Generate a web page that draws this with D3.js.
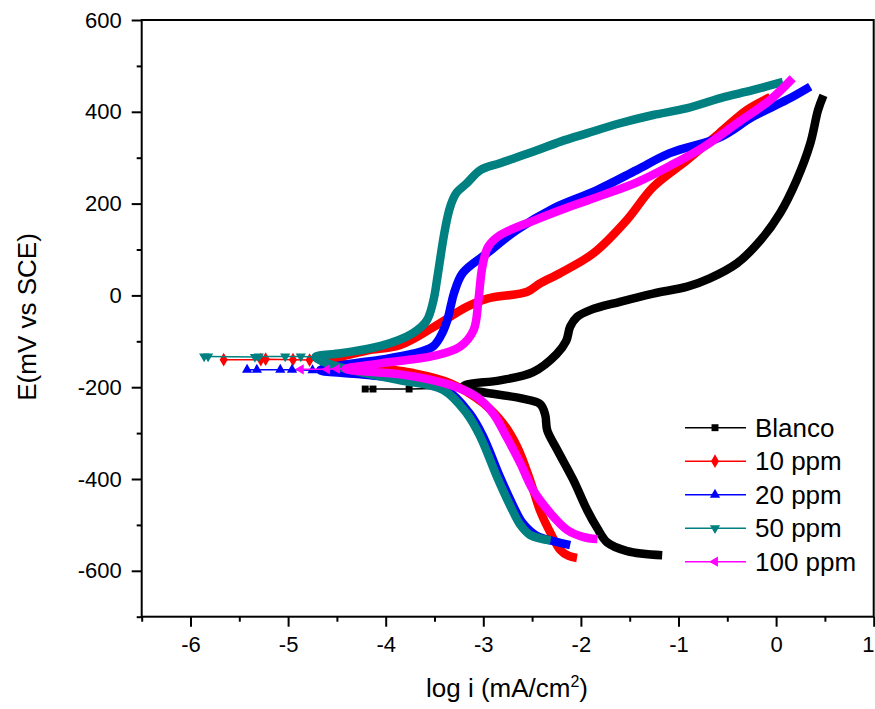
<!DOCTYPE html>
<html><head><meta charset="utf-8">
<script src="https://cdn.jsdelivr.net/npm/d3@7"></script>
<style>body{margin:0;background:#fff}svg{display:block;font-family:"Liberation Sans",Arial,sans-serif}</style>
</head><body><svg id="chart" width="875" height="709"></svg>
<script>
// ---- axis ticks ----
const xTicks = [-6, -5, -4, -3, -2, -1, 0, 1];
const xMinorTicks = [-6.5, -5.5, -4.5, -3.5, -2.5, -1.5, -0.5, 0.5];
const yTicks = [-600, -400, -200, 0, 200, 400, 600];
const yMinorTicks = [-700, -500, -300, -100, 100, 300, 500];
const seriesNames = ["Blanco", "10 ppm", "20 ppm", "50 ppm", "100 ppm"];
const seriesColors = ["#000000", "#FF0000", "#0000FF", "#008080", "#FF00FF"];

// ---- data: [log i, E] ----
// Blanco
const blancoCath = [[-1.167,-566],[-1.526,-557],[-1.731,-538],[-1.833,-507],[-1.935,-468],[-2.078,-402],[-2.242,-337],[-2.345,-294],[-2.365,-261],[-2.416,-237],[-2.621,-224],[-3.0,-211],[-3.215,-202]];
const blancoAnod = [[-3.215,-202],[-3.18,-195],[-2.83,-185],[-2.49,-167],[-2.25,-128],[-2.15,-99],[-2.11,-68],[-2.04,-47],[-1.905,-32],[-1.60,-14],[-1.26,4],[-0.91,19],[-0.68,37],[-0.40,70],[-0.16,120],[0.04,179],[0.21,251],[0.35,331],[0.43,404],[0.485,436]];
const blancoEcorr = [[-3.76,-204],[-4.13,-204],[-4.21,-204]];
// 10 ppm
const ppm10Cath = [[-2.04,-572],[-2.13,-567],[-2.21,-555],[-2.31,-518],[-2.42,-468],[-2.52,-403],[-2.65,-331],[-2.80,-278],[-3.0,-235],[-3.34,-191],[-3.72,-169],[-4.33,-152],[-4.62,-141]];
const ppm10Anod = [[-4.62,-141],[-4.45,-133],[-4.19,-120],[-3.85,-108],[-3.51,-69],[-3.17,-25],[-2.96,-7],[-2.55,8],[-2.42,26],[-2.21,49],[-1.87,92],[-1.53,164],[-1.26,236],[-0.91,295],[-0.58,354],[-0.30,404],[-0.06,432]];
const ppm10Ecorr = [[-4.78,-141],[-4.95,-140],[-5.23,-139],[-5.28,-140],[-5.66,-140]];
// 20 ppm
const ppm20Cath = [[-2.11,-544],[-2.25,-537],[-2.45,-524],[-2.60,-495],[-2.69,-460],[-2.83,-395],[-3.0,-308],[-3.14,-257],[-3.38,-206],[-3.85,-182],[-4.26,-172],[-4.67,-163]];
const ppm20Anod = [[-4.67,-163],[-4.39,-150],[-4.05,-140],[-3.72,-127],[-3.52,-112],[-3.44,-90],[-3.37,-55],[-3.33,-20],[-3.30,5],[-3.21,49],[-2.96,92],[-2.66,142],[-2.28,190],[-1.84,229],[-1.43,273],[-1.09,310],[-0.57,345],[-0.24,389],[0.11,426],[0.35,455]];
const ppm20Ecorr = [[-4.75,-163],[-4.96,-162],[-5.08,-162],[-5.32,-162],[-5.42,-162]];
// 50 ppm
const ppm50Cath = [[-2.31,-534],[-2.52,-522],[-2.62,-500],[-2.72,-460],[-2.86,-395],[-3.03,-308],[-3.17,-257],[-3.41,-206],[-3.85,-185],[-4.26,-167],[-4.57,-150],[-4.72,-134]];
const ppm50Anod = [[-4.72,-134],[-4.46,-126],[-4.05,-110],[-3.72,-82],[-3.58,-55],[-3.51,-10],[-3.47,40],[-3.40,135],[-3.35,185],[-3.31,210],[-3.27,225],[-3.17,244],[-3.03,273],[-2.83,288],[-2.45,316],[-2.21,335],[-1.94,353],[-1.60,375],[-1.26,393],[-0.91,408],[-0.57,430],[-0.24,447],[0.07,465]];
const ppm50Ecorr = [[-4.87,-133],[-5.03,-133],[-5.30,-133],[-5.34,-134],[-5.82,-133],[-5.86,-133]];
// 100 ppm
const ppm100Cath = [[-1.83,-531],[-1.98,-526],[-2.14,-511],[-2.31,-475],[-2.49,-424],[-2.62,-366],[-2.76,-309],[-2.90,-257],[-3.07,-221],[-3.34,-195],[-3.85,-172],[-4.26,-165],[-4.41,-160]];
const ppm100Anod = [[-4.41,-160],[-4.05,-148],[-3.51,-132],[-3.24,-112],[-3.10,-76],[-3.05,-10],[-3.01,62],[-2.95,106],[-2.83,131],[-2.47,164],[-2.13,192],[-1.77,219],[-1.42,247],[-1.09,282],[-0.73,325],[-0.40,375],[-0.06,426],[0.17,473]];
const ppm100Ecorr = [[-4.50,-160],[-4.60,-161],[-4.87,-161]];

const series = [
  {cath: blancoCath, anod: blancoAnod, ecorr: blancoEcorr, sym: d3.symbolSquare, rot: 0, size: 48},
  {cath: ppm10Cath, anod: ppm10Anod, ecorr: ppm10Ecorr, sym: d3.symbolDiamond, rot: 0, size: 55},
  {cath: ppm20Cath, anod: ppm20Anod, ecorr: ppm20Ecorr, sym: d3.symbolTriangle, rot: 0, size: 45},
  {cath: ppm50Cath, anod: ppm50Anod, ecorr: ppm50Ecorr, sym: d3.symbolTriangle, rot: 180, size: 45},
  {cath: ppm100Cath, anod: ppm100Anod, ecorr: ppm100Ecorr, sym: d3.symbolTriangle, rot: -90, size: 45}
].map((s, i) => Object.assign(s, {name: seriesNames[i], color: seriesColors[i]}));

const svg = d3.select("#chart");
const L = 141.7, R = 873.7, T = 20, B = 616.7;
const x = d3.scaleLinear().domain([-6.5, 1]).range([L, R]);
const y = d3.scaleLinear().domain([-700, 600]).range([B, T]);

// axes
const fmt = d => String(d);
const gx = svg.append("g").attr("transform", `translate(0,${B})`)
  .call(d3.axisBottom(x).tickValues(xTicks).tickSize(10).tickPadding(10).tickFormat(fmt));
const gxm = svg.append("g").attr("transform", `translate(0,${B})`)
  .call(d3.axisBottom(x).tickValues(xMinorTicks).tickSize(5).tickFormat(""));
const gy = svg.append("g").attr("transform", `translate(${L},0)`)
  .call(d3.axisLeft(y).tickValues(yTicks).tickSize(10).tickPadding(10).tickFormat(fmt));
const gym = svg.append("g").attr("transform", `translate(${L},0)`)
  .call(d3.axisLeft(y).tickValues(yMinorTicks).tickSize(5).tickFormat(""));
[gx, gxm, gy, gym].forEach(g => {
  g.select(".domain").remove();
  g.selectAll(".tick line").attr("stroke", "#000").attr("stroke-width", 2);
  g.selectAll(".tick text").attr("fill", "#000").style("font-size", "22px")
    .style("font-family", '"Liberation Sans",Arial,sans-serif');
});
// keep the last x label ("1") inside the picture
gx.selectAll(".tick text").filter(d => d === xTicks[xTicks.length - 1])
  .attr("text-anchor", "end").attr("x", 874 - R);

svg.append("rect").attr("x", L).attr("y", T).attr("width", R - L).attr("height", B - T)
  .attr("fill", "none").attr("stroke", "#000").attr("stroke-width", 2);

// axis titles
svg.append("text").attr("transform", `translate(36,317) rotate(-90)`).attr("text-anchor", "middle")
  .style("font-size", "26px").text("E(mV vs SCE)");
const xt = svg.append("text").attr("x", 507).attr("y", 697).attr("text-anchor", "middle").style("font-size", "26px");
xt.append("tspan").text("log i (mA/cm");
xt.append("tspan").attr("dy", -10).style("font-size", "16px").text("2");
xt.append("tspan").attr("dy", 10).text(")");

// curves
const thick = d3.line().x(d => x(d[0])).y(d => y(d[1])).curve(d3.curveCatmullRom.alpha(0.5));
const thin = d3.line().x(d => x(d[0])).y(d => y(d[1]));
series.forEach(s => {
  const g = svg.append("g");
  const apex = s.cath[s.cath.length - 1];
  g.append("path").attr("d", thin([apex, ...s.ecorr])).attr("fill", "none")
    .attr("stroke", s.color).attr("stroke-width", 1.5);
  g.append("path").attr("d", thick(s.cath.concat(s.anod.slice(1)))).attr("fill", "none")
    .attr("stroke", s.color).attr("stroke-width", 8.5).attr("stroke-linejoin", "round").attr("stroke-linecap", "butt");
  g.selectAll("path.m").data(s.ecorr).join("path").attr("class", "m")
    .attr("d", d3.symbol().type(s.sym).size(s.size))
    .attr("transform", d => `translate(${x(d[0])},${y(d[1])}) rotate(${s.rot})`)
    .attr("fill", s.color);
});

// legend
const lg = svg.append("g");
series.forEach((s, i) => {
  const ry = 427.7 + i * 33.5;
  lg.append("line").attr("x1", 685).attr("x2", 746).attr("y1", ry).attr("y2", ry)
    .attr("stroke", s.color).attr("stroke-width", 1.5);
  lg.append("path").attr("d", d3.symbol().type(s.sym).size(s.size))
    .attr("transform", `translate(715,${ry}) rotate(${s.rot})`).attr("fill", s.color);
  lg.append("text").attr("x", 755).attr("y", ry + 9).style("font-size", "26px").text(s.name);
});
</script></body></html>
